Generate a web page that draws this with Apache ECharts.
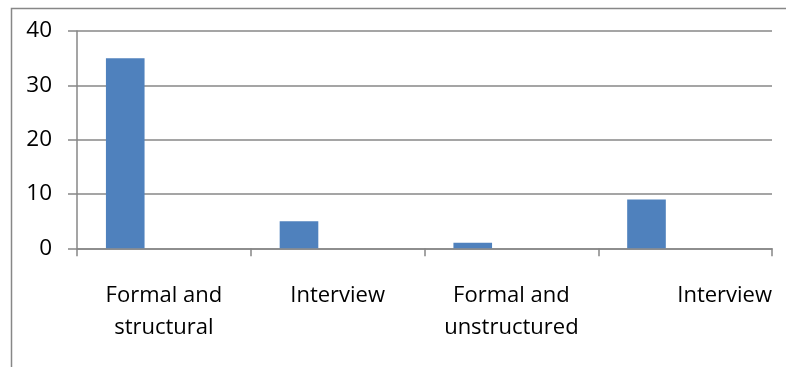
<!DOCTYPE html>
<html>
<head>
<meta charset="utf-8">
<script src="https://cdn.jsdelivr.net/npm/echarts@6/dist/echarts.min.js"></script>
<style>
  html, body { margin: 0; padding: 0; background: #fff; }
  #chart { width: 786px; height: 367px; }
</style>
</head>
<body>
<div id="chart"></div>
<script>
// Interview types and counts
const categories = ['Formal and\nstructural', 'Interview', 'Formal and\nunstructured', 'Interview'];
const counts = [35, 5, 1, 9];
// Two further clustered series that carry no values
const emptySeriesA = [null, null, null, null];
const emptySeriesB = [null, null, null, null];
const yTicks = { min: 0, max: 40, interval: 10 };

const FONT = '"Open Sans", sans-serif';
const GRAY = '#878787';

const chart = echarts.init(document.getElementById('chart'), null, { renderer: 'canvas' });

// The last label sits flush with the right end of the axis
const catData = categories.map((c, i) => {
  if (i === categories.length - 1) {
    return { value: c, textStyle: { padding: [0, 0, 0, 79] } };
  }
  return c;
});

chart.setOption({
  animation: false,
  backgroundColor: '#ffffff',
  graphic: [{
    type: 'rect',
    silent: true,
    shape: { x: 11.5, y: 8.5, width: 820, height: 420 },
    style: { fill: 'none', stroke: GRAY, lineWidth: 1.5 }
  }],
  grid: { left: 77, right: 14, top: 31, bottom: 118.7, containLabel: false },
  xAxis: {
    type: 'category',
    data: catData,
    boundaryGap: true,
    axisLine: { show: true, lineStyle: { color: GRAY, width: 1.5 } },
    axisTick: { show: true, length: 8, lineStyle: { color: GRAY, width: 1.5 } },
    axisLabel: {
      interval: 0,
      margin: 32,
      color: '#000',
      fontFamily: FONT,
      fontSize: 22,
      lineHeight: 31.5
    },
    splitLine: { show: false }
  },
  yAxis: {
    type: 'value',
    min: yTicks.min,
    max: yTicks.max,
    interval: yTicks.interval,
    axisLine: { show: true, lineStyle: { color: GRAY, width: 1.5 } },
    axisTick: { show: true, length: 9, lineStyle: { color: GRAY, width: 1.5 } },
    axisLabel: {
      margin: 25,
      color: '#000',
      fontFamily: FONT,
      fontSize: 22.5
    },
    splitLine: { show: true, lineStyle: { color: GRAY, width: 1.5 } }
  },
  series: [
    {
      type: 'bar',
      data: counts,
      barGap: '0%',
      barCategoryGap: '33.3%',
      itemStyle: { color: '#4F81BD' },
      z: 3
    },
    { type: 'bar', data: emptySeriesA, barGap: '0%', barCategoryGap: '33.3%', itemStyle: { color: '#C0504D' } },
    { type: 'bar', data: emptySeriesB, barGap: '0%', barCategoryGap: '33.3%', itemStyle: { color: '#9BBB59' } }
  ]
});
</script>
</body>
</html>
